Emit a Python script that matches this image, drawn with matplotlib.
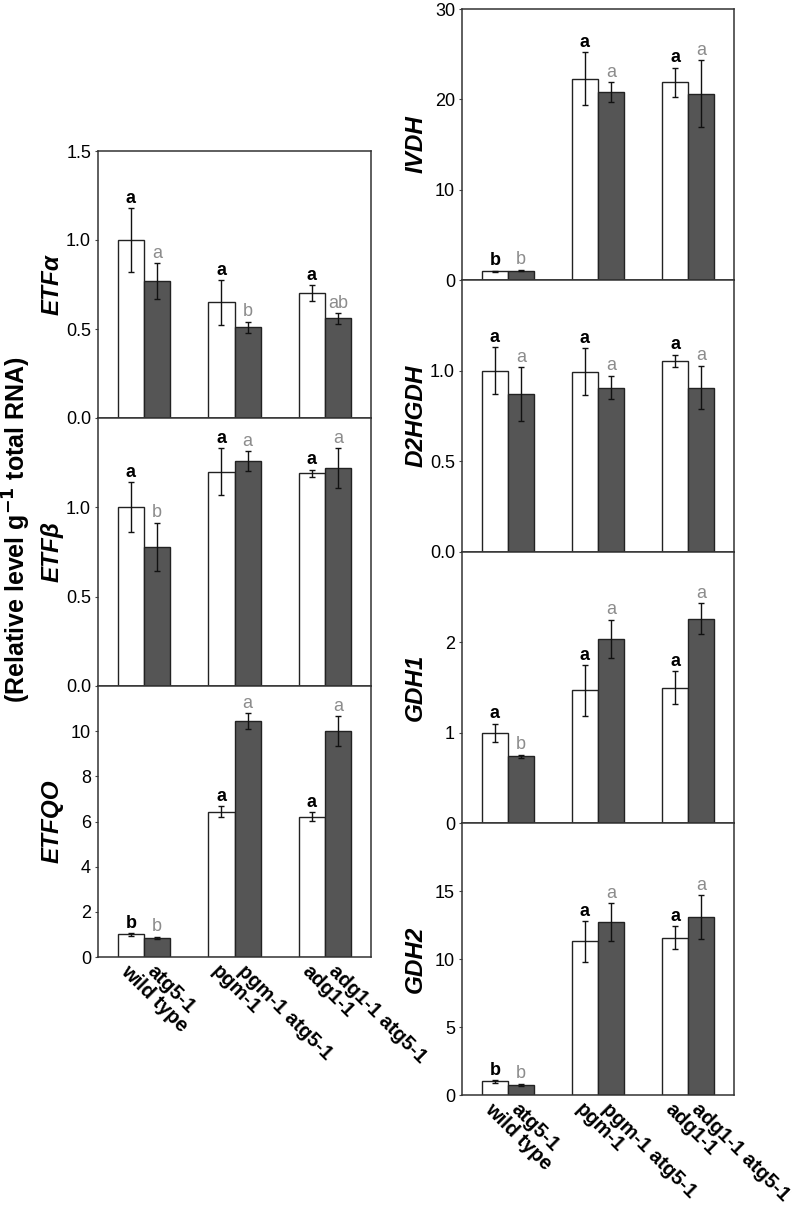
import numpy as np
import matplotlib
matplotlib.use("Agg")
import matplotlib.pyplot as plt

plt.rcParams['font.family'] = ['Liberation Sans', 'DejaVu Sans']

genotypes = ['wild type', 'atg5-1', 'pgm-1', 'pgm-1 atg5-1', 'adg1-1', 'adg1-1 atg5-1']

# values per gene: [wt, atg5-1, pgm-1, pgm-1 atg5-1, adg1-1, adg1-1 atg5-1]
etfa = [1.00, 0.77, 0.65, 0.51, 0.70, 0.56]
etfa_err = [0.18, 0.10, 0.125, 0.03, 0.045, 0.03]
etfa_let = ['a', 'a', 'a', 'b', 'a', 'ab']

etfb = [1.00, 0.78, 1.20, 1.26, 1.19, 1.22]
etfb_err = [0.14, 0.135, 0.13, 0.055, 0.02, 0.11]
etfb_let = ['a', 'b', 'a', 'a', 'a', 'a']

etfqo = [1.00, 0.85, 6.44, 10.44, 6.22, 10.0]
etfqo_err = [0.05, 0.05, 0.23, 0.36, 0.18, 0.67]
etfqo_let = ['b', 'b', 'a', 'a', 'a', 'a']

ivdh = [0.95, 1.05, 22.3, 20.8, 21.9, 20.6]
ivdh_err = [0.1, 0.1, 2.9, 1.1, 1.6, 3.7]
ivdh_let = ['b', 'b', 'a', 'a', 'a', 'a']

d2hgdh = [1.00, 0.87, 0.995, 0.907, 1.055, 0.907]
d2hgdh_err = [0.13, 0.15, 0.13, 0.065, 0.033, 0.12]
d2hgdh_let = ['a', 'a', 'a', 'a', 'a', 'a']

gdh1 = [1.00, 0.74, 1.47, 2.04, 1.50, 2.26]
gdh1_err = [0.10, 0.015, 0.28, 0.21, 0.18, 0.17]
gdh1_let = ['a', 'b', 'a', 'a', 'a', 'a']

gdh2 = [1.0, 0.74, 11.3, 12.7, 11.55, 13.1]
gdh2_err = [0.1, 0.08, 1.5, 1.4, 0.85, 1.6]
gdh2_let = ['b', 'b', 'a', 'a', 'a', 'a']

W, H = 797, 1205
fig = plt.figure(figsize=(W / 100, H / 100), dpi=100)

def px_axes(l, t, r, b):
    return fig.add_axes([l / W, 1 - b / H, (r - l) / W, (b - t) / H])

groups = np.arange(3)
bw = 0.29
xpos = np.ravel(np.column_stack([groups - bw / 2, groups + bw / 2]))
dark = '#555555'
gray_txt = '#8c8c8c'

def panel(ax, vals, errs, lets, ylim, ticks, fmt, name, bottom=False):
    vals = np.array(vals)
    errs = np.array(errs)
    cols = ['white', dark] * 3
    ax.bar(xpos, vals, width=bw, color=cols, edgecolor='#222222', linewidth=1.0, zorder=2)
    ax.errorbar(xpos, vals, yerr=errs, fmt='none', ecolor='#111111', elinewidth=1.0,
                capsize=2.5, capthick=1.0, zorder=3)
    for i, (x, v, e, l) in enumerate(zip(xpos, vals, errs, lets)):
        if i % 2 == 0:
            ax.annotate(l, (x, v + e), xytext=(0, 1), textcoords='offset points',
                        ha='center', va='bottom', fontsize=13, fontweight='bold', color='black')
        else:
            ax.annotate(l, (x, v + e), xytext=(0, 1), textcoords='offset points',
                        ha='center', va='bottom', fontsize=13, color=gray_txt)
    ax.set_xlim(-0.51, 2.51)
    ax.set_ylim(*ylim)
    ax.set_yticks(ticks)
    ax.set_yticklabels([fmt.format(t) for t in ticks], fontsize=13)
    ax.tick_params(axis='y', length=2, width=0.8, pad=3, color='#444444')
    for s in ax.spines.values():
        s.set_linewidth(1.1)
        s.set_color('#333333')
    if bottom:
        ax.set_xticks(xpos)
        ax.set_xticklabels(genotypes, rotation=-45, ha='left', va='top',
                           rotation_mode='anchor', fontsize=14.5, fontweight='bold')
        ax.tick_params(axis='x', length=0, pad=3)
    else:
        ax.set_xticks([])
    ax.text(-0.17, 0.5, name, transform=ax.transAxes, rotation=90, ha='center', va='center',
            fontsize=17.5, fontweight='bold', fontstyle='italic')

# left column
ax1 = px_axes(98, 151, 371, 418)
panel(ax1, etfa, etfa_err, etfa_let, (0, 1.5), [0, 0.5, 1.0, 1.5], '{:.1f}', 'ETFα')
ax2 = px_axes(98, 418, 371, 686)
panel(ax2, etfb, etfb_err, etfb_let, (0, 1.5), [0, 0.5, 1.0], '{:.1f}', 'ETFβ')
ax3 = px_axes(98, 686, 371, 957)
panel(ax3, etfqo, etfqo_err, etfqo_let, (0, 12), [0, 2, 4, 6, 8, 10], '{:d}', 'ETFQO', bottom=True)

# right column
ax4 = px_axes(462, 9, 734, 280)
panel(ax4, ivdh, ivdh_err, ivdh_let, (0, 30), [0, 10, 20, 30], '{:d}', 'IVDH')
ax5 = px_axes(462, 280, 734, 552)
panel(ax5, d2hgdh, d2hgdh_err, d2hgdh_let, (0, 1.5), [0, 0.5, 1.0], '{:.1f}', 'D2HGDH')
ax6 = px_axes(462, 552, 734, 823)
panel(ax6, gdh1, gdh1_err, gdh1_let, (0, 3), [0, 1, 2], '{:d}', 'GDH1')
ax7 = px_axes(462, 823, 734, 1095)
panel(ax7, gdh2, gdh2_err, gdh2_let, (0, 20), [0, 5, 10, 15], '{:d}', 'GDH2', bottom=True)

fig.text(17 / W, 1 - 530 / H, '(Relative level g$^{\\mathbf{-1}}$ total RNA)', rotation=90,
         ha='center', va='center', fontsize=18, fontweight='bold')

fig.savefig('out.png', dpi=100)
